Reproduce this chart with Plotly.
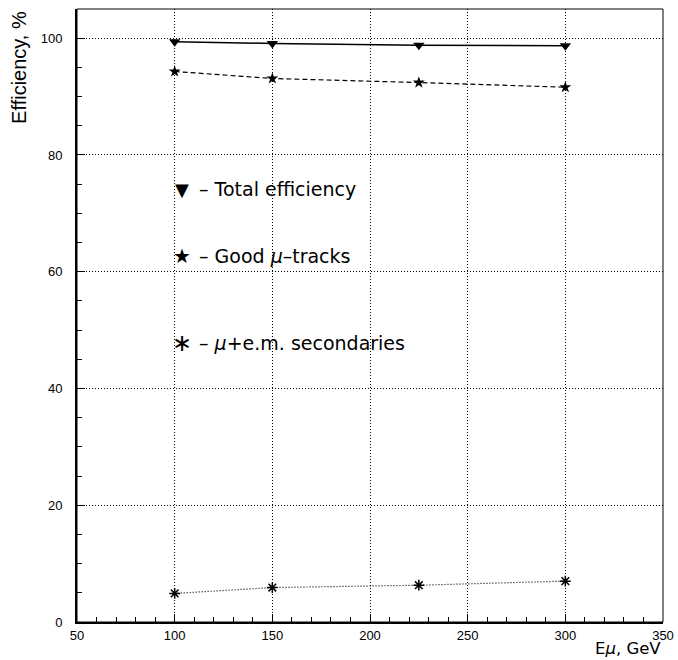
import plotly.graph_objects as go

energy = [100, 150, 225, 300]
total_eff = [99.4, 99.1, 98.8, 98.7]
good_tracks = [94.3, 93.1, 92.4, 91.6]
secondaries = [4.9, 5.9, 6.3, 7.0]

x_ticks = [50, 100, 150, 200, 250, 300, 350]
y_ticks = [0, 20, 40, 60, 80, 100]

FONT = "Liberation Sans, Arial, sans-serif"
WIDE = "DejaVu Sans, Verdana, sans-serif"

fig = go.Figure()
fig.add_trace(go.Scatter(x=energy, y=total_eff, mode="lines+markers",
                         line=dict(color="black", width=1.5),
                         marker=dict(symbol="triangle-down", size=10, color="black")))
fig.add_trace(go.Scatter(x=energy, y=good_tracks, mode="lines+markers",
                         line=dict(color="black", width=1.2, dash="5px,3px"),
                         marker=dict(symbol="star", size=9, color="black")))
fig.add_trace(go.Scatter(x=energy, y=secondaries, mode="lines+markers",
                         line=dict(color="black", width=1.2, dash="1px,2px"),
                         marker=dict(symbol="asterisk-open", size=9,
                                     line=dict(color="black", width=1.5))))

axis_common = dict(showline=True, linecolor="black", linewidth=2,
                   ticks="inside", ticklen=8, tickwidth=1, tickcolor="black",
                   showgrid=True, gridcolor="black", gridwidth=1, griddash="1px,2px",
                   zeroline=False, automargin=False,
                   tickfont=dict(family=FONT, size=13, color="black"))

fig.update_xaxes(range=[50, 350], tickvals=x_ticks, ticktext=[str(v) for v in x_ticks],
                 minor=dict(dtick=10, ticks="inside", ticklen=5, tickcolor="black", showgrid=False),
                 ticklabelstandoff=0, **axis_common)
fig.update_yaxes(range=[0, 105], tickvals=y_ticks, ticktext=[str(v) for v in y_ticks],
                 minor=dict(dtick=5, ticks="inside", ticklen=5, tickcolor="black", showgrid=False),
                 ticklabelstandoff=10, **axis_common)

# thin frame on top/right
fig.add_shape(type="rect", xref="paper", yref="paper", x0=0, y0=0, x1=1, y1=1,
              line=dict(color="black", width=1), layer="above")

ann = []
# axis titles
ann.append(dict(xref="paper", yref="paper", x=1.0, y=-0.044, xanchor="right", yanchor="middle",
                text="E<i>μ</i>, GeV", showarrow=False, font=dict(family=WIDE, size=16.5, color="black")))
ann.append(dict(xref="paper", x=-0.1, xanchor="center", yref="paper", y=1.0, yanchor="top",
                text="Efficiency, %", textangle=-90, showarrow=False,
                font=dict(family=FONT, size=20, color="black")))

# legend glyphs and texts
lx, tx = 104, 111.5
ly = [74.1, 62.7, 47.8]
ann.append(dict(x=lx, y=ly[0], text="▼", showarrow=False, font=dict(family="DejaVu Sans", size=18, color="black")))
ann.append(dict(x=lx, y=ly[1], text="★", showarrow=False, font=dict(family="DejaVu Sans", size=20, color="black")))
ann.append(dict(x=lx, y=ly[2], text="∗", showarrow=False, font=dict(family="DejaVu Sans", size=24, color="black")))
labels = ["– Total efficiency", "– Good <i>μ</i>–tracks", "– <i>μ</i>+e.m. secondaries"]
for yy, t in zip(ly, labels):
    ann.append(dict(x=tx, y=yy, xanchor="left", text=t, showarrow=False,
                    font=dict(family=WIDE, size=19, color="black")))

fig.update_layout(width=678, height=660, showlegend=False,
                  margin=dict(l=77, r=15, t=9, b=38, autoexpand=False),
                  plot_bgcolor="white", paper_bgcolor="white",
                  annotations=ann)

fig.write_html("out.html")
